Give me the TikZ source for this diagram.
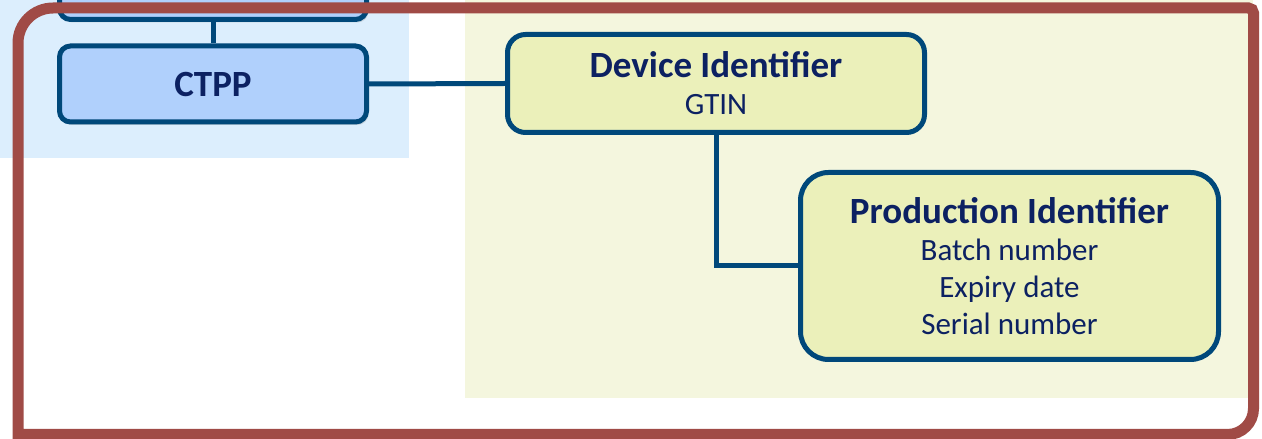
\documentclass[tikz,border=0pt]{standalone}
\usepackage{fontspec}
\setmainfont{Carlito}
\usetikzlibrary{positioning, shadows}

\definecolor{boxline}{RGB}{0,72,122}
\definecolor{textnavy}{RGB}{12,33,98}
\definecolor{ctppfill}{RGB}{176,208,252}
\definecolor{ctppzone}{RGB}{220,238,253}
\definecolor{idfill}{RGB}{235,240,186}
\definecolor{idzone}{RGB}{244,246,222}
\definecolor{frame}{RGB}{160,75,70}

\newcommand{\boxhead}[1]{{\fontsize{37}{37}\selectfont\bfseries #1}}

\begin{document}
\begin{tikzpicture}[x=1pt,y=1pt,
  blue node/.style={rectangle,rounded corners=11pt,draw=boxline,line width=5pt,fill=ctppfill,
    minimum width=307pt,minimum height=76pt,text=textnavy,
    drop shadow={opacity=0.25,shadow xshift=2pt,shadow yshift=-3pt}},
  id node/.style={rectangle,draw=boxline,line width=5pt,fill=idfill,text=textnavy,align=center,
    font=\fontsize{31}{37}\selectfont},
  link/.style={draw=boxline,line width=5pt}]
  \useasboundingbox (0,0) rectangle (1262,439);
  \clip (0,0) rectangle (1262,439);

  \fill[ctppzone] (0,281) rectangle (409,439);
  \fill[idzone] (465,41) rectangle (1253,439);

  \node[blue node] (top) at (213,457.5) {};
  \node[blue node] (ctpp) at (213,355) {\boxhead{CTPP}};
  \node[id node, rounded corners=18pt, minimum width=417pt, minimum height=98pt]
    (devid) at (716,355.5) {\boxhead{Device Identifier}\\GTIN};
  \node[id node, rounded corners=28pt, minimum width=418pt, minimum height=187pt]
    (prodid) at (1009.5,173) {\boxhead{Production Identifier}\\Batch number\\Expiry date\\Serial number};

  \path[link] (top.south) -- (ctpp.north);
  \path[link] (ctpp.east) -- (devid.west);
  \path[link] (devid.south) |- (prodid.west);

  \draw[frame, line width=11pt, line join=miter]
    (18,4.5) -- (18,396) arc[start angle=180, end angle=90, radius=35pt]
    -- (1248.5,431) arc[start angle=90, end angle=0, radius=5pt]
    -- (1253.5,30.5) arc[start angle=0, end angle=-90, radius=26pt] -- cycle;
\end{tikzpicture}
\end{document}
